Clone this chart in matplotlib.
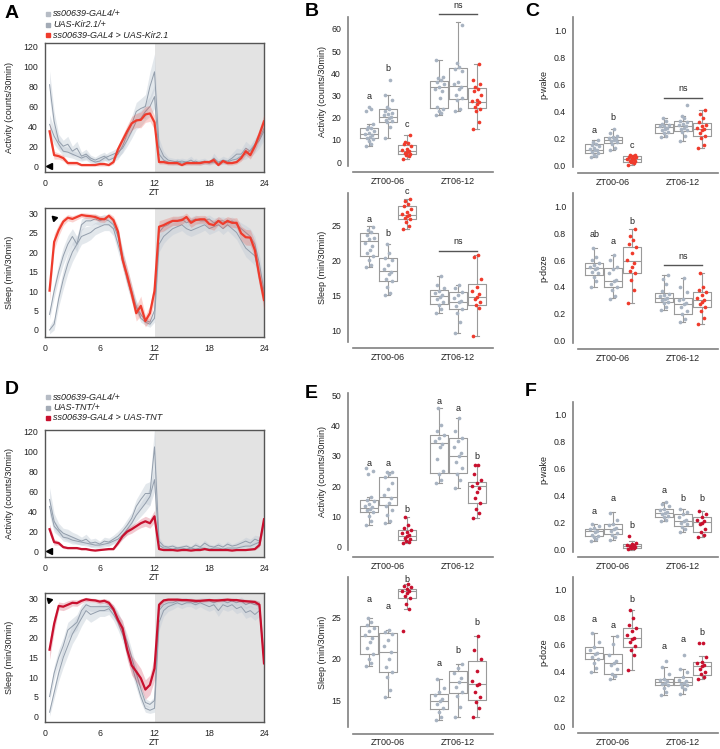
import numpy as np
import matplotlib
matplotlib.use("Agg")
import matplotlib.pyplot as plt
from matplotlib.lines import Line2D

plt.rcParams['font.family'] = ['Liberation Sans', 'DejaVu Sans']

W, H = 720, 749
fig = plt.figure(figsize=(W / 100, H / 100), dpi=100)

# ---------------- data ----------------
zt = np.arange(0.5, 24.01, 0.5)

# panel A: Kir2.1, activity
A_act_red = [35,11,10,8,3,3,3,1,1,1,1,2,2,1,4,17,26,35,43,46,46.5,52,53,44,
             4,4,3,3,3,1,3,3,3,3,4,4,6,1,5,3,3,4,8,15,11,20,32,45]
A_act_g1 = [82,45,25,20,22,15,18,10,12,8,6,8,10,6,8,12,20,32,42,55,58,60,80,95,
            20,10,6,5,4,5,4,6,3,4,5,3,8,4,6,5,8,12,12,18,15,20,26,35]
A_act_g2 = [42,30,22,15,14,12,10,8,10,6,4,5,8,10,12,14,18,26,35,45,48,55,60,70,
            12,6,4,3,5,3,4,3,5,3,4,3,4,3,5,4,6,7,10,12,16,22,28,38]
A_act_sem_red = [8,4,3,3,2,2,2,1,1,1,1,2,2,1,2,4,5,6,7,7,8,8,8,7,
                 2,2,2,2,2,1,2,2,2,2,2,2,3,1,2,2,2,2,3,4,4,5,6,7]
A_act_sem_g1 = [14,10,7,6,8,5,7,4,5,3,3,4,4,3,4,5,6,7,8,9,10,12,15,18,
                8,5,3,3,3,3,3,4,2,3,3,2,5,3,4,3,5,6,5,7,6,7,8,9]
A_act_sem_g2 = [10,8,6,5,5,4,4,3,4,3,2,3,3,4,4,5,5,6,7,8,8,9,10,12,
                5,3,2,2,3,2,2,2,3,2,2,2,2,2,3,2,3,3,4,5,5,6,7,8]

# panel A: Kir2.1, sleep
A_slp_red = [10.1,22.6,25.6,27.8,28.8,28.5,29,29.5,29.3,29.2,29,28.5,28.4,29.3,28.2,25.2,18,14,9.4,4.3,6.2,2.3,4.3,10,
             26.5,26.9,27.5,28,28,28.2,29,27.5,28.2,28.4,28.4,27.2,26.9,28,27.2,28,27.5,27.5,24.8,23.8,23.7,20.5,13.7,7.7]
A_slp_g1 = [0,1.5,8,13,17,20,22,24,24.5,25,26,26.5,27,27,26,22,18,13,9,6,3,2,1.5,3,
            22,24,25,26,26.5,27,26,25.5,26,26.5,27,26,26.5,27,26,27,26,25,23,21,20,19,14,9]
A_slp_g2 = [4,10,15,19,22,24,22,27,28,28,28.5,28,28.5,28,27,24,19,14,10,6,4,2.5,2,5,
            25,26.5,27,28,28,28.5,27.5,28,28.5,28,28,28.5,27.5,28,28,27.5,28,27,26,25,24,22,17,10]
A_slp_sem_red = [2.5,2,1.5,1,0.8,0.8,0.7,0.6,0.7,0.7,0.8,0.8,0.8,0.7,1,1.5,2,2.2,2.2,2,2.5,1.5,2,2.5,
                 1.5,1.5,1.3,1.2,1.2,1.1,1,1.2,1.1,1,1,1.2,1.3,1.1,1.2,1.1,1.2,1.3,1.8,2,2,2.2,2.5,2.5]
A_slp_sem_g1 = [1,1.5,2,2.5,2.5,2.5,2.2,2,2,1.8,1.6,1.5,1.5,1.5,1.8,2,2.2,2,1.8,1.5,1,0.8,0.8,1,
                2,1.8,1.5,1.5,1.5,1.5,1.5,1.5,1.5,1.5,1.4,1.5,1.5,1.4,1.5,1.5,1.6,1.8,2,2.2,2.3,2.4,2.5,2.5]
A_slp_sem_g2 = [1.2,1.8,2,2.2,2.2,2,2,1.5,1.2,1.2,1.2,1.2,1.2,1.2,1.5,1.8,2,2,1.8,1.5,1,0.8,0.8,1.2,
                1.5,1.2,1.2,1,1,1,1.2,1,1,1,1.2,1,1.2,1,1,1.2,1,1.2,1.5,1.8,2,2,2.2,2.5]

# panel D: TNT, activity
D_act_red = [22,9,8,4,3,3,3,2,2,1,0.5,1,1.5,2,2,8,15,19.5,22,25,28,30,28,35,
             2,1,1,1,0.5,1,1,0.5,1,1,2,1,1,1,1,1,0.5,1,1,1,1.5,2,6,32]
D_act_g1 = [52,30,22,18,16,14,12,10,12,8,9,7,10,9,12,15,20,26,33,45,52,58,58,105,
            10,5,4,5,3,4,5,3,6,4,8,5,4,6,4,7,5,6,8,10,8,12,10,30]
D_act_g2 = [45,25,20,14,13,11,10,9,8,7,6,6,7,8,10,12,16,22,28,36,42,48,55,72,
            6,3,3,2,3,3,2,3,2,3,3,2,3,3,2,3,3,3,4,5,5,7,9,28]
D_act_sem_red = [5,3,2,1.5,1,1,1,1,1,0.5,0.5,0.5,0.5,1,1,2,3,3.5,4,4,4.5,5,5,6,
                 0.5,0.5,0.5,0.5,0.5,0.5,0.5,0.5,0.5,0.5,0.8,0.5,0.5,0.5,0.5,0.5,0.5,0.5,0.5,0.5,0.8,1,2,5]
D_act_sem_g1 = [12,8,6,5,6,5,5,4,5,4,4,3,4,4,4,5,5,6,6,7,8,10,12,20,
                4,2,2,2,2,2,2,2,3,2,3,2,2,3,2,3,2,3,3,4,4,4,5,7]
D_act_sem_g2 = [9,6,5,4,4,4,3,3,3,3,3,3,3,3,3,4,4,5,5,6,7,8,9,12,
                3,1,1,1,1,1,1,1,1,1,1,1,1,1,1,1,1,1,2,2,2,3,3,6]

# panel D: TNT, sleep
D_slp_red = [17,23.6,28.2,28,28.5,29,28.9,29.5,29.9,29.7,29.6,29.3,29.5,29,27.4,24.6,22.5,17,13,11.4,9.7,6.8,8,12.2,
             28.5,29.6,29.8,29.8,29.8,29.7,29.7,29.6,29.5,29.5,29.6,29.7,29.6,29.6,29.7,29.8,29.7,29.7,29.5,29.4,29.3,29.2,28.5,13.5]
D_slp_g1 = [1,6,11,15,18,21,23,25,27,26,26.5,27,27,27.5,26,24,21,17,13,9,5,2,1.5,2,
            24,27,28,28.5,29,28.5,29,29,28.5,29,28.5,28,28.5,27,28.5,28,28.5,27.5,28,26.5,27,26,27,14]
D_slp_g2 = [5,11,15,18,22,23,24,27,28.5,28,28,28,28,28,27,25,22,19,15,11,7,3.5,3,4,
            27,28.5,29,29,29.5,29.5,29.5,29.5,29,29.5,29.5,29.5,29,29.5,29.5,29,29.5,29,29.5,28.5,29,28.5,28.5,14]
D_slp_sem_red = [2.5,2,1,1,1,0.8,0.8,0.6,0.5,0.5,0.5,0.6,0.6,0.7,1,1.5,2,2.5,2.5,2.5,2.5,2.5,2.5,3,
                 0.8,0.5,0.4,0.4,0.4,0.4,0.4,0.4,0.4,0.4,0.4,0.4,0.4,0.4,0.4,0.4,0.4,0.4,0.5,0.5,0.5,0.6,0.8,2]
D_slp_sem_g1 = [1,1.5,2,2.5,2.5,2.5,2.5,2,2,2,1.8,1.5,1.5,1.5,1.5,2,2,2,2,1.8,1.5,1,0.8,1,
                2,1.5,1.2,1.2,1,1,1,1,1.2,1,1.2,1.2,1.2,1.5,1.2,1.2,1.2,1.3,1.3,1.5,1.5,1.5,1.5,2]
D_slp_sem_g2 = [1.2,1.8,2,2,2,2,2,1.5,1.2,1.2,1.2,1.2,1.2,1.2,1.5,1.8,2,2,2,1.8,1.5,1,0.8,1,
                1.5,1,0.8,0.8,0.8,0.8,0.8,0.8,0.8,0.8,0.8,0.8,0.8,0.8,0.8,0.8,0.8,0.8,1,1,1,1,1,2]

# box panels: order = ZT00-06 (GAL4/+, UAS/+, GAL4>UAS), ZT06-12 (same)
# stats = (whisker low, q1, median, q3, whisker high)
B_act_stats = [(7, 10.7, 12.5, 15.5, 17), (11, 18.2, 20.5, 24, 30), (1.5, 3.6, 5, 7.7, 12),
               (21, 24.2, 33.7, 36.5, 46), (23, 28.3, 34.3, 42.5, 63), (15, 24.5, 27.2, 33.5, 44)]
B_act_pts = [[7, 8, 9.5, 10.5, 11, 11.5, 12, 12.5, 13, 14, 15, 15.5, 16, 17, 23, 24, 25],
             [11, 16, 18, 18.5, 19, 20, 20.5, 21, 21.5, 22, 23, 24, 25, 28, 30, 37],
             [1.5, 2.5, 3, 3.5, 4, 4.5, 5, 5.5, 6, 7, 8, 8.5, 9, 12],
             [21, 22, 23, 24, 25, 29, 32, 33, 34, 35, 36, 37, 38, 38.5, 46],
             [23, 24, 28, 29, 30, 33, 34, 35, 36, 41, 42, 43, 44.5, 62],
             [15, 18, 23, 24, 25, 26, 27, 27.5, 28, 30, 32, 33, 34, 35, 37, 44]]
B_act_letters = [('a', 29.5), ('b', 42), ('c', 17)]
B_act_ns = (66.8, 70.8)

B_slp_stats = [(19.1, 20.6, 22.8, 23.9, 24.9), (15.0, 17.1, 18.5, 20.3, 22.4), (24.5, 25.9, 26.5, 27.8, 28.8),
               (12.5, 13.8, 14.9, 15.8, 17.7), (9.6, 13.0, 14.1, 15.4, 16.5), (9.2, 13.6, 14.8, 16.6, 20.8)]
B_slp_pts = [[19, 19.3, 20, 20.6, 21, 21.5, 22, 22.5, 23, 23.2, 23.6, 24, 24.4, 24.8],
             [15, 15.3, 16.2, 17, 17.4, 18, 18.4, 18.8, 19.3, 20, 20.3, 21, 22.4],
             [24.5, 24.9, 25.5, 25.9, 26.1, 26.3, 26.5, 26.7, 27, 27.4, 27.8, 28.1, 28.5, 28.8],
             [12.5, 13, 13.6, 14, 14.4, 14.8, 15, 15.3, 15.6, 16, 16.5, 17.7],
             [9.6, 11.2, 12.5, 13, 13.5, 14, 14.2, 14.6, 15, 15.4, 16, 16.5],
             [9.2, 13.2, 13.6, 14, 14.4, 14.8, 15.2, 15.6, 16.2, 17.3, 20.5, 20.8]]
B_slp_letters = [('a', 25.9), ('b', 23.9), ('c', 29.9)]
B_slp_ns = (21.4, 22.7)

C_wake_stats = [(0.062, 0.092, 0.117, 0.156, 0.19), (0.11, 0.166, 0.19, 0.211, 0.27), (0.0, 0.027, 0.045, 0.067, 0.08),
                (0.21, 0.243, 0.285, 0.305, 0.355), (0.18, 0.255, 0.293, 0.33, 0.365), (0.13, 0.221, 0.27, 0.318, 0.414)]
C_wake_pts = [[0.062, 0.07, 0.08, 0.09, 0.1, 0.11, 0.115, 0.12, 0.13, 0.14, 0.15, 0.16, 0.175, 0.19],
              [0.11, 0.13, 0.16, 0.17, 0.18, 0.19, 0.195, 0.2, 0.21, 0.22, 0.24, 0.27],
              [0.0, 0.015, 0.025, 0.03, 0.035, 0.04, 0.045, 0.05, 0.055, 0.06, 0.065, 0.07, 0.075, 0.08],
              [0.21, 0.22, 0.24, 0.25, 0.26, 0.27, 0.28, 0.29, 0.295, 0.3, 0.31, 0.33, 0.355],
              [0.18, 0.22, 0.25, 0.26, 0.27, 0.28, 0.29, 0.3, 0.31, 0.32, 0.33, 0.35, 0.365, 0.447],
              [0.13, 0.15, 0.2, 0.22, 0.24, 0.26, 0.27, 0.28, 0.29, 0.3, 0.32, 0.35, 0.38, 0.414]]
C_wake_letters = [('a', 0.26), ('b', 0.355), ('c', 0.146)]
C_wake_ns = (0.5, 0.57)

C_doze_stats = [(0.40, 0.49, 0.54, 0.577, 0.69), (0.316, 0.40, 0.44, 0.54, 0.64), (0.28, 0.50, 0.59, 0.70, 0.83),
                (0.23, 0.29, 0.32, 0.353, 0.49), (0.14, 0.197, 0.274, 0.316, 0.465), (0.12, 0.25, 0.30, 0.36, 0.50)]
C_doze_pts = [[0.40, 0.44, 0.47, 0.5, 0.51, 0.53, 0.54, 0.55, 0.56, 0.58, 0.6, 0.62, 0.69],
              [0.31, 0.33, 0.38, 0.4, 0.42, 0.44, 0.45, 0.5, 0.53, 0.55, 0.6, 0.64],
              [0.28, 0.38, 0.45, 0.5, 0.52, 0.55, 0.58, 0.6, 0.65, 0.7, 0.72, 0.75, 0.78, 0.83],
              [0.23, 0.25, 0.28, 0.29, 0.3, 0.31, 0.32, 0.33, 0.34, 0.35, 0.37, 0.42, 0.46, 0.49],
              [0.14, 0.16, 0.2, 0.22, 0.25, 0.27, 0.28, 0.3, 0.31, 0.36, 0.4, 0.465],
              [0.12, 0.17, 0.22, 0.25, 0.27, 0.29, 0.3, 0.32, 0.34, 0.36, 0.38, 0.4, 0.5]]
C_doze_letters = [('ab', 0.79), ('a', 0.74), ('b', 0.89)]
C_doze_ns = (0.56, 0.63)

E_act_stats = [(7.1, 11.5, 12.9, 15.4, 16.5), (7.9, 13.7, 16.3, 22.9, 24.7), (1.1, 2.2, 3.6, 5.5, 9.7),
               (20.9, 24.2, 34.3, 36.7, 45.9), (19.2, 24.2, 29.9, 35.7, 42.3), (9.3, 14.5, 20.0, 21.4, 27.1)]
E_act_pts = [[7.1, 8.5, 10, 11.5, 12, 12.5, 13, 13.5, 14, 15, 15.5, 16.5, 24, 25, 26],
             [7.9, 8.5, 10.5, 12, 13.5, 14.5, 16, 17, 19, 21, 23, 24, 24.5, 24.7],
             [1.1, 1.5, 2, 2.5, 3, 3.5, 3.8, 4.5, 5, 5.5, 6, 7, 9.7],
             [20.9, 22, 24, 25, 29, 33, 34, 35, 36, 37, 38, 40, 45.9],
             [19.2, 22, 24, 26, 28, 30, 31, 33, 35, 36, 38, 42.3],
             [9.3, 11, 12.5, 14.5, 16, 18, 19.5, 20, 21, 22, 24, 27, 27.1]]
E_act_letters = [('a', 27.5), ('a', 27.5), ('b', 12.1), ('a', 47.8), ('a', 45.6), ('b', 29.9)]

E_slp_stats = [(19.1, 20.6, 22.7, 23.9, 24.9), (15.4, 18.4, 20.8, 23.1, 23.5), (26.0, 27.3, 28.1, 28.4, 29.0),
               (12.6, 13.9, 14.9, 15.8, 17.6), (13.0, 15.9, 17.2, 18.5, 19.4), (13.0, 15.0, 17.0, 19.7, 22.7)]
E_slp_pts = [[19.1, 19.5, 20, 20.6, 21.3, 22, 22.5, 22.9, 23.3, 23.7, 24, 24.4, 24.9],
             [15.4, 16.2, 17.8, 18.4, 19, 20, 20.8, 21.5, 22.3, 23, 23.2, 23.5],
             [23.3, 26, 26.6, 27.3, 27.6, 27.9, 28.1, 28.2, 28.4, 28.6, 28.8, 29],
             [12.6, 13, 13.6, 14, 14.5, 14.9, 15.2, 15.6, 16, 16.5, 17.6],
             [13, 14.2, 15.5, 16, 16.6, 17.2, 17.7, 18.3, 18.9, 19.4],
             [13, 14, 14.8, 15.4, 16, 16.8, 17, 17.3, 18.5, 20, 21, 22.7]]
E_slp_letters = [('a', 27.1), ('a', 26.3), ('b', 29.5), ('a', 19.4), ('b', 21.0), ('b', 24.4)]

F_wake_stats = [(0.064, 0.099, 0.138, 0.155, 0.187), (0.069, 0.118, 0.15, 0.187, 0.278), (0.0, 0.015, 0.027, 0.039, 0.06),
                (0.21, 0.241, 0.273, 0.303, 0.35), (0.13, 0.175, 0.21, 0.26, 0.30), (0.094, 0.13, 0.204, 0.24, 0.285)]
F_wake_pts = [[0.064, 0.075, 0.09, 0.1, 0.11, 0.13, 0.14, 0.15, 0.16, 0.175, 0.187],
              [0.069, 0.09, 0.11, 0.12, 0.14, 0.15, 0.16, 0.18, 0.19, 0.22, 0.27],
              [0.002, 0.01, 0.015, 0.02, 0.025, 0.028, 0.032, 0.036, 0.04, 0.05, 0.1],
              [0.21, 0.22, 0.24, 0.25, 0.26, 0.27, 0.28, 0.29, 0.3, 0.32, 0.335, 0.35],
              [0.13, 0.15, 0.17, 0.19, 0.2, 0.21, 0.22, 0.24, 0.26, 0.28, 0.3],
              [0.094, 0.11, 0.13, 0.15, 0.19, 0.2, 0.21, 0.22, 0.24, 0.26, 0.285]]
F_wake_letters = [('a', 0.28), ('a', 0.38), ('b', 0.18), ('a', 0.44), ('b', 0.38), ('b', 0.38)]

F_doze_stats = [(0.40, 0.49, 0.534, 0.578, 0.686), (0.35, 0.382, 0.46, 0.527, 0.66), (0.41, 0.583, 0.645, 0.723, 0.853),
                (0.228, 0.30, 0.326, 0.35, 0.436), (0.24, 0.30, 0.326, 0.358, 0.42), (0.35, 0.375, 0.44, 0.468, 0.515)]
F_doze_pts = [[0.4, 0.43, 0.46, 0.49, 0.51, 0.53, 0.54, 0.56, 0.58, 0.62, 0.686],
              [0.35, 0.37, 0.38, 0.42, 0.45, 0.46, 0.48, 0.52, 0.6, 0.66],
              [0.41, 0.52, 0.56, 0.59, 0.62, 0.64, 0.65, 0.67, 0.7, 0.72, 0.74, 0.79, 0.853],
              [0.228, 0.25, 0.28, 0.3, 0.31, 0.32, 0.33, 0.34, 0.35, 0.38, 0.436, 0.48],
              [0.24, 0.27, 0.29, 0.3, 0.31, 0.32, 0.33, 0.34, 0.36, 0.4, 0.42, 0.52],
              [0.35, 0.36, 0.38, 0.4, 0.42, 0.44, 0.45, 0.46, 0.47, 0.51, 0.61, 0.61]]
F_doze_letters = [('a', 0.784), ('a', 0.735), ('b', 0.93), ('a', 0.583), ('a', 0.637), ('b', 0.686)]

groups = ['ZT00-06', 'ZT06-12']
kir_labels = ['ss00639-GAL4/+', 'UAS-Kir2.1/+', 'ss00639-GAL4 > UAS-Kir2.1']
tnt_labels = ['ss00639-GAL4/+', 'UAS-TNT/+', 'ss00639-GAL4 > UAS-TNT']

# ---------------- style ----------------
KIR = '#ef3b2c'
TNT = '#c8102e'
GRAY_LINE = '#939eac'
GRAY_BAND = '#c3ccd7'
GRAY_PT = '#a8b3c1'
BOX_EDGE = '#9a9a9a'
TXT = '#222222'
HUE = 0.2667
JIT = [-0.05, 0.03, -0.01, 0.05, -0.03, 0.01, 0.04, -0.06, 0.0, 0.06, -0.04, 0.02, -0.02, 0.05, -0.05, 0.03, 0.0]


def pax(l, t, r, b):
    return fig.add_axes([l / W, 1 - b / H, (r - l) / W, (b - t) / H])


def line_panel(rect, g1, g2, red, sems, red_col, ylim, yticks, ylabel, arrow):
    ax = pax(*rect)
    ax.axvspan(12, 24, color='#e3e3e3', lw=0, zorder=0)
    for mean, sem in [(g1, sems[0]), (g2, sems[1])]:
        m, s = np.array(mean), np.array(sem)
        ax.fill_between(zt, m - s, m + s, color=GRAY_BAND, alpha=0.45, lw=0, zorder=1)
        ax.plot(zt, m, color=GRAY_LINE, lw=0.7, zorder=2)
    m, s = np.array(red), np.array(sems[2])
    ax.fill_between(zt, m - s, m + s, color=red_col, alpha=0.22, lw=0, zorder=3)
    ax.plot(zt, m, color=red_col, lw=1.6, zorder=4)
    ax.plot(*arrow[:2], marker=arrow[2], color='black', ms=4.5, zorder=5, clip_on=False)
    ax.set_xlim(0, 24)
    ax.set_ylim(*ylim)
    ax.set_xticks([0, 6, 12, 18, 24])
    ax.set_yticks(yticks)
    ax.tick_params(length=0, labelsize=6.3, pad=5, colors=TXT)
    for sp in ax.spines.values():
        sp.set_color('#555555')
        sp.set_linewidth(1.0)
    ax.set_xlabel('ZT', fontsize=6.5, labelpad=0, color=TXT)
    ax.set_ylabel(ylabel, fontsize=6.5, color=TXT)
    ax.yaxis.set_label_coords(-0.142, 0.5)
    return ax


def box_panel(rect, off_b, stats, pts, red_col, ylim, yticks, ylabel, letters, ns=None,
              label_x=-0.186, label_y=0.5, fmt='%g'):
    ax = pax(*rect)
    for k in range(6):
        g, h = divmod(k, 3)
        x = g + (h - 1) * HUE
        lo, q1, med, q3, hi = stats[k]
        ax.bxp([dict(whislo=lo, q1=q1, med=med, q3=q3, whishi=hi, fliers=[])],
               positions=[x], widths=0.255, showfliers=False, capwidths=0.07,
               boxprops=dict(color=BOX_EDGE, lw=0.8), medianprops=dict(color=BOX_EDGE, lw=0.8),
               whiskerprops=dict(color=BOX_EDGE, lw=0.8), capprops=dict(color=BOX_EDGE, lw=0.8),
               manage_ticks=False)
        col = red_col if h == 2 else GRAY_PT
        xs = [x + JIT[i % len(JIT)] for i in range(len(pts[k]))]
        ax.scatter(xs, pts[k], s=7, color=col, lw=0, zorder=3)
    for k, (lab, yv) in enumerate(letters):
        g, h = divmod(k, 3)
        ax.text(g + (h - 1) * HUE, yv, lab, ha='center', va='center', fontsize=6.5, color=TXT)
    if ns is not None:
        ax.plot([1 - HUE, 1 + HUE], [ns[0], ns[0]], color='#555555', lw=1.0, clip_on=False)
        ax.text(1, ns[1], 'ns', ha='center', va='center', fontsize=6.5, color=TXT)
    ax.set_xlim(-0.5, 1.5)
    ax.set_ylim(*ylim)
    ax.set_xticks([0, 1])
    ax.set_xticklabels(groups)
    ax.set_yticks(yticks)
    ax.yaxis.set_major_formatter(plt.FormatStrFormatter(fmt))
    ax.spines[['top', 'right']].set_visible(False)
    ax.spines['left'].set_position(('outward', 5 * 0.72))
    ax.spines['bottom'].set_position(('outward', off_b * 0.72))
    for sp in ['left', 'bottom']:
        ax.spines[sp].set_color('#808080')
        ax.spines[sp].set_linewidth(1.2)
    ax.tick_params(axis='y', length=0, labelsize=6.3, pad=5, colors=TXT)
    ax.tick_params(axis='x', length=0, labelsize=6.5, pad=3.5, colors=TXT)
    ax.set_ylabel(ylabel, fontsize=6.5, color=TXT)
    ax.yaxis.set_label_coords(label_x, label_y)
    return ax


def legend(y0, labels, red_col):
    cols = ['#b6bcc5', '#a3abb6', red_col]
    for i, (lab, c) in enumerate(zip(labels, cols)):
        y = 1 - (y0 + i * 10.5) / H
        fig.add_artist(Line2D([47.5 / W], [y], marker='s', ms=3.2, color=c, ls='', transform=fig.transFigure))
        fig.text(53 / W, y, lab, fontsize=6.5, style='italic', va='center', ha='left', color=TXT)


# ---------------- line panels ----------------
line_panel((45, 43, 264, 172), A_act_g1, A_act_g2, A_act_red, (A_act_sem_g1, A_act_sem_g2, A_act_sem_red), KIR,
           (-6, 124), [0, 20, 40, 60, 80, 100, 120], 'Activity (counts/30min)', (0.4, 0, '<'))
line_panel((45, 208, 264, 337), A_slp_g1, A_slp_g2, A_slp_red, (A_slp_sem_g1, A_slp_sem_g2, A_slp_sem_red), KIR,
           (-1.8, 31.3), [0, 5, 10, 15, 20, 25, 30], 'Sleep (min/30min)', (0.95, 28.7, (3, 0, 45)))
line_panel((45, 430, 264, 557), D_act_g1, D_act_g2, D_act_red, (D_act_sem_g1, D_act_sem_g2, D_act_sem_red), TNT,
           (-6, 122), [0, 20, 40, 60, 80, 100, 120], 'Activity (counts/30min)', (0.4, 0, '<'))
line_panel((45, 593, 264, 722), D_slp_g1, D_slp_g2, D_slp_red, (D_slp_sem_g1, D_slp_sem_g2, D_slp_sem_red), TNT,
           (-1.5, 31.5), [0, 5, 10, 15, 20, 25, 30], 'Sleep (min/30min)', (0.45, 29.6, (3, 0, 45)))

legend(14, kir_labels, KIR)
legend(397, tnt_labels, TNT)

# ---------------- box panels ----------------
ptick = [0, 0.2, 0.4, 0.6, 0.8, 1.0]
box_panel((353, 17, 493, 166), 6, B_act_stats, B_act_pts, KIR, (-1.8, 65.4), range(0, 61, 10),
          'Activity (counts/30min)', B_act_letters, B_act_ns)
box_panel((353, 193, 493, 342), 6, B_slp_stats, B_slp_pts, KIR, (8.3, 29.66), [10, 15, 20, 25],
          'Sleep (min/30min)', B_slp_letters, B_slp_ns)
box_panel((578, 17, 718, 167), 6, C_wake_stats, C_wake_pts, KIR, (-0.013, 1.104), ptick,
          'p-wake', C_wake_letters, C_wake_ns, label_x=-0.21, label_y=0.55, fmt='%.1f')
box_panel((578, 193, 718, 343), 6, C_doze_stats, C_doze_pts, KIR, (-0.019, 1.1), ptick,
          'p-doze', C_doze_letters, C_doze_ns, label_x=-0.21, fmt='%.1f')
box_panel((353, 393, 493, 550), 6.7, E_act_stats, E_act_pts, TNT, (-1.1, 50.7), range(0, 51, 10),
          'Activity (counts/30min)', E_act_letters)
box_panel((353, 577, 493, 727), 6.6, E_slp_stats, E_slp_pts, TNT, (11.77, 29.84), [15, 20, 25],
          'Sleep (min/30min)', E_slp_letters)
box_panel((578, 402, 718, 552), 5, F_wake_stats, F_wake_pts, TNT, (-0.018, 1.091), ptick,
          'p-wake', F_wake_letters, label_x=-0.21, label_y=0.55, fmt='%.1f')
box_panel((578, 577, 718, 727), 6.3, F_doze_stats, F_doze_pts, TNT, (-0.005, 1.093), ptick,
          'p-doze', F_doze_letters, label_x=-0.21, fmt='%.1f')

# panel letters
for lab, x, y in [('A', 5, 13), ('B', 305, 12), ('C', 525, 12), ('D', 5, 390), ('E', 305, 393), ('F', 525, 392)]:
    fig.text(x / W, 1 - y / H, lab, fontsize=14, fontweight='bold', va='center', ha='left')

fig.savefig('out.png', dpi=100)
